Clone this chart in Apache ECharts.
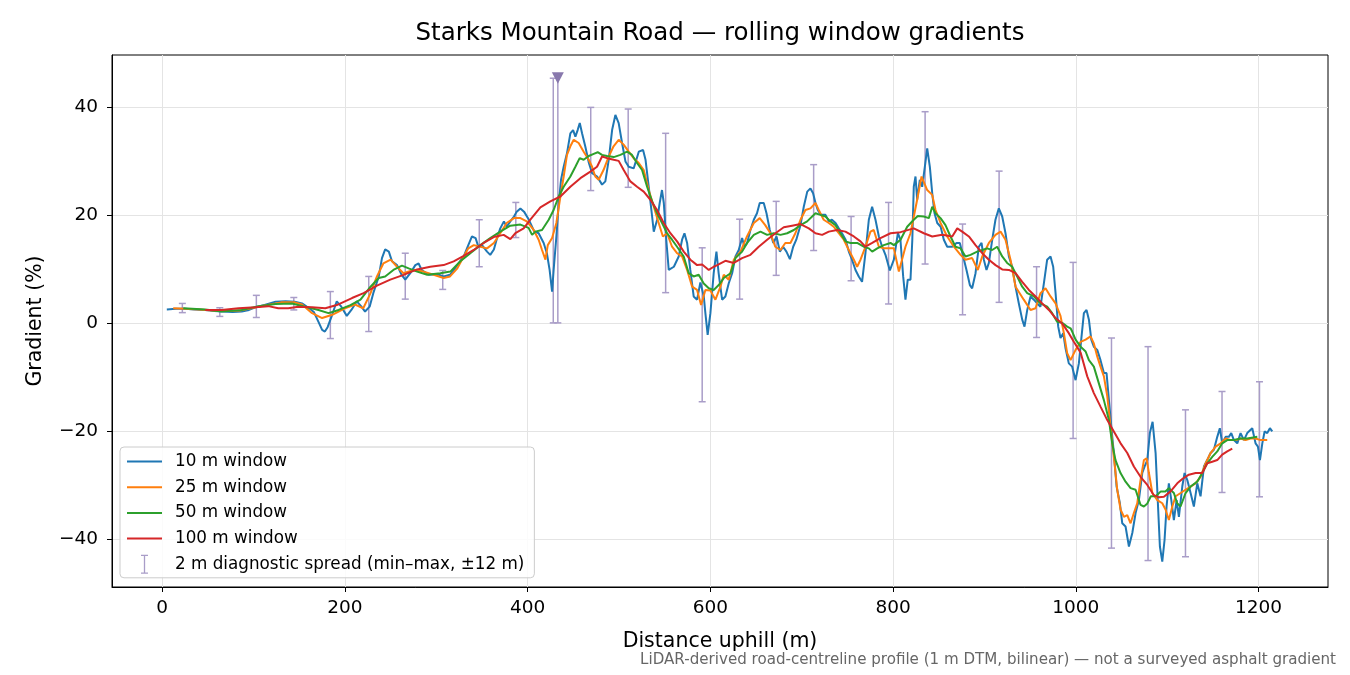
<!DOCTYPE html>
<html>
<head>
<meta charset="utf-8">
<title>Starks Mountain Road gradients</title>
<script src="https://cdn.jsdelivr.net/npm/echarts@6.0.0/dist/echarts.min.js"></script>
<style>
  html, body { margin: 0; padding: 0; background: #fff; }
  #main { width: 1350px; height: 675px; }
</style>
</head>
<body>
<div id="main"></div>
<script>
// rolling window gradients, [distance m, gradient %]
var win10 = [[5,2.5],[15,2.6],[25,2.6],[35,2.5],[47,2.4],[57,2.2],[66,2.1],[77,2.0],[87,2.1],[95,2.4],[102,2.9],[112,3.3],[124,3.9],[135,4.0],[145,3.9],[153,3.6],[160,2.8],[166,2.0],[171,0.2],[175,-1.3],[178,-1.6],[181,-0.8],[186,1.5],[191,4.0],[196,3.0],[202,1.3],[207,2.4],[213,4.0],[218,3.0],[222,2.1],[227,3.0],[231,5.5],[237,8.6],[240.5,12.0],[244,13.6],[248,13.2],[251.5,11.4],[257,10.7],[262,8.9],[266,8.0],[271.5,9.2],[277,10.7],[280.6,11.0],[284,9.8],[292,8.9],[301,9.0],[308,8.6],[315,8.9],[323,10.7],[330,12.3],[335,14.4],[339,16.0],[343,15.7],[346,14.1],[350,14.4],[355.5,13.2],[359,12.6],[363,13.6],[366.5,15.7],[370,17.5],[374,18.8],[377,17.8],[381,18.8],[385,19.7],[388,20.6],[392,21.2],[396,20.6],[401,19.2],[407,17.0],[412,16.6],[417.5,14.8],[421,12.9],[424,9.8],[426.7,5.8],[428.4,9.8],[431.4,16.0],[434,22.2],[436.5,26.5],[439.4,28.9],[443,31.4],[446.7,35.1],[449.7,35.7],[452.2,34.5],[454.7,35.7],[457,37.0],[459.5,35.1],[463,32.7],[467,29.6],[470.5,27.7],[476,27.1],[481.4,25.6],[485,26.2],[488.7,30.2],[492.4,35.7],[496,38.5],[499.6,37.0],[503.3,33.3],[507,29.9],[510.6,28.9],[516,28.6],[521.6,31.7],[526.3,32.0],[529,30.2],[532.5,25.2],[536.2,19.7],[538,16.9],[541.7,19.1],[544.5,22.2],[547,24.6],[549,22.2],[551.4,16.0],[554.4,9.8],[560,10.4],[565.3,12.3],[569,15.4],[571.6,16.6],[574.5,14.8],[578,9.8],[581.7,4.9],[585.4,4.3],[589,7.5],[592.7,5.0],[594.5,1.8],[597,-2.2],[600,1.8],[603.6,9.2],[606.6,13.2],[609,9.2],[612.8,4.3],[616.4,4.9],[620,7.3],[623.8,9.2],[627.4,12.3],[631,13.5],[634.7,15.7],[637.2,14.1],[640.2,14.8],[643.8,17.2],[647.5,19.1],[651,20.3],[654,22.2],[658.4,22.2],[661.4,20.3],[665,17.2],[668.8,14.8],[672.4,16.0],[676,13.2],[679.6,14.1],[683.2,13.2],[687,11.8],[690.6,14.1],[694,15.4],[698.6,18.1],[702.2,21.5],[706,24.3],[709.5,24.9],[712.4,24.0],[715,22.2],[717.5,20.9],[721,20.0],[726,20.0],[729.6,18.8],[733,19.1],[737,18.5],[740.5,17.5],[744,16.6],[748,15.4],[751.5,13.2],[755,11.7],[758.8,9.8],[762.4,8.6],[766,7.6],[769.7,12.9],[773.4,19.1],[777,21.5],[780.7,19.1],[784.4,16.0],[788,14.1],[791.6,12.6],[796.4,9.7],[800.8,11.7],[805.2,16.6],[808,15.4],[811,8.6],[813.5,4.3],[816,8.0],[819,8.0],[821,15.4],[822.6,25.2],[824.5,27.1],[826.3,22.8],[829.2,26.5],[831.8,25.2],[834.7,28.9],[837.3,32.3],[840.2,28.9],[842.8,24.0],[845.3,20.3],[848.3,18.5],[852,17.8],[855.5,15.4],[859.2,14.1],[864.7,14.1],[869.4,14.8],[873,14.8],[876.7,12.3],[880.3,9.8],[884,7.0],[886.5,6.4],[890.2,9.2],[893.8,14.1],[896.8,14.8],[899.3,11.7],[902.2,9.8],[904.8,11.1],[908.5,15.4],[912,19.1],[915.7,21.2],[919.4,19.7],[923,16.6],[926.7,12.3],[930.3,10.4],[934,6.7],[937.6,3.6],[941.3,0.6],[943.8,-0.7],[946.8,2.4],[950.4,4.9],[954,4.3],[957.7,3.6],[961.3,3.0],[965,7.3],[968.6,11.7],[972.3,12.3],[975.2,10.4],[977.8,5.5],[980.7,-0.7],[983.2,-2.8],[986.2,-1.9],[988.7,-4.7],[992.3,-7.5],[996,-8.1],[999.7,-10.6],[1003.3,-7.5],[1005.9,-3.1],[1008.8,1.8],[1011.7,2.4],[1014.3,0.6],[1016.9,-3.1],[1019.7,-4.4],[1023.4,-5.0],[1027,-6.9],[1030.7,-9.3],[1033.6,-9.3],[1036.2,-14.3],[1038.8,-19.2],[1041.6,-24.1],[1044.6,-30.3],[1048.2,-33.4],[1050.8,-37.1],[1054.4,-37.7],[1058.1,-41.4],[1061.8,-38.9],[1065.4,-35.2],[1069,-32.8],[1072.7,-27.8],[1075.2,-26.6],[1078.2,-25.4],[1081,-20.4],[1084,-18.3],[1087.3,-24.1],[1089.8,-33.4],[1092,-41.4],[1094.6,-44.2],[1097.1,-40.2],[1099.3,-34.0],[1101.8,-29.7],[1104.5,-32.8],[1107.3,-36.5],[1110.3,-32.8],[1112.8,-35.9],[1116.5,-30.3],[1119,-27.8],[1122,-29.1],[1125.6,-31.5],[1129.2,-34.0],[1132.9,-29.7],[1136.5,-32.1],[1140.2,-26.6],[1143.8,-25.4],[1147.5,-24.1],[1151.1,-23.5],[1154.8,-21.1],[1157.6,-19.5],[1160.2,-22.3],[1163.9,-21.1],[1167.5,-21.1],[1170.1,-20.4],[1173,-21.7],[1176.7,-22.3],[1180.3,-20.4],[1184,-21.7],[1187.6,-20.4],[1193.1,-19.5],[1196.7,-22.3],[1199.3,-22.9],[1201.5,-25.4],[1204.1,-22.3],[1206.6,-20.1],[1209.5,-20.4],[1212.4,-19.5],[1215,-20.1]];

var win25 = [[12,2.7],[25,2.6],[40,2.5],[55,2.3],[70,2.2],[85,2.3],[100,2.8],[115,3.3],[130,3.8],[145,3.8],[153,3.4],[164,1.8],[175,0.9],[186,1.5],[200,2.7],[211,3.4],[220,2.7],[228,5.5],[235,8.6],[242,11.0],[250,11.7],[257,10.4],[264,9.2],[275,9.8],[286,9.5],[297,8.9],[308,8.3],[315,8.6],[323,10.1],[330,12.3],[335,13.8],[341,14.4],[348,14.1],[355.5,13.8],[363,14.8],[370,16.6],[377,18.5],[385,19.4],[392,19.4],[399,18.8],[406.6,17.2],[412,15.4],[415.7,13.5],[419.4,11.7],[422,14.4],[426.7,15.7],[431.4,18.5],[435.8,23.4],[439.4,27.1],[443,31.1],[446.7,32.7],[450.4,33.9],[455.8,33.3],[461.3,31.7],[466.8,30.2],[470.5,28.9],[474,27.1],[477.7,26.5],[483,28.3],[488.7,30.8],[494,32.7],[499.6,33.9],[505,33.0],[510.6,31.7],[516,30.5],[521.6,29.6],[527,28.3],[532.5,24.6],[538,21.5],[543.4,18.5],[548,16.0],[552.6,16.6],[558,14.1],[563.5,12.9],[569,12.3],[574.5,9.8],[580,6.7],[585.4,6.1],[589.8,3.3],[594.5,6.1],[600,6.0],[605.5,4.3],[611,6.7],[614.6,8.9],[620,8.0],[625.6,11.7],[633,13.2],[640,16.0],[647.5,18.5],[654,19.4],[660,18.1],[665.7,16.6],[671,14.1],[676.7,13.5],[682,14.8],[687.6,14.8],[693,16.6],[698.6,19.1],[704,20.9],[709.5,21.2],[715,22.2],[718.6,20.9],[724,19.1],[729.6,18.5],[735,17.8],[740.5,16.6],[746,15.4],[751.5,13.5],[757,11.7],[760.6,10.4],[764.3,11.7],[769.7,14.1],[775.2,16.9],[778.8,17.2],[784.4,14.1],[789.8,13.8],[795,13.8],[800.8,13.8],[806.3,9.5],[813.5,14.1],[819,16.6],[826.3,22.8],[831.1,27.1],[837.3,24.6],[842.8,23.7],[846.4,20.9],[851.9,18.5],[859.2,16.0],[866.5,14.1],[873.8,12.6],[879.2,11.7],[886.5,12.0],[892.7,9.8],[897.5,12.3],[904.8,14.8],[912,16.3],[917.6,16.9],[923,15.4],[928.5,11.7],[934,6.7],[943,4.3],[950.4,2.4],[955.9,2.7],[961.3,5.5],[966.8,6.4],[972.3,4.9],[977.8,3.6],[983.2,1.3],[986.9,-1.9],[990.5,-5.6],[994.2,-6.9],[999.7,-5.0],[1005.2,-3.5],[1010.7,-3.1],[1016.1,-2.5],[1019.7,-3.8],[1023.4,-6.2],[1027,-8.1],[1030.7,-9.9],[1034.4,-13.6],[1038,-19.2],[1041.6,-24.8],[1045.3,-30.9],[1049,-34.6],[1052.6,-35.9],[1056.3,-35.6],[1059.9,-37.1],[1063.5,-35.2],[1067.2,-33.4],[1070.8,-29.1],[1074.5,-25.4],[1077.4,-25.1],[1080,-27.8],[1083.7,-31.5],[1089.2,-32.8],[1094.6,-33.4],[1098.3,-34.6],[1101.8,-36.5],[1105.6,-34.0],[1109.2,-32.1],[1114.7,-31.5],[1120,-30.9],[1125.6,-30.3],[1131,-29.7],[1136.5,-28.5],[1142,-26.0],[1147.5,-24.1],[1153,-22.9],[1158.5,-22.3],[1164,-21.4],[1169.4,-21.7],[1175,-21.7],[1180.3,-21.4],[1185.8,-21.7],[1191.2,-21.4],[1196.7,-21.4],[1202.2,-21.7],[1209.5,-21.7]];

var win50 = [[23,2.7],[47,2.5],[65,2.1],[87,2.4],[105.5,3.1],[124,3.5],[142,3.6],[156.6,3.0],[171,2.4],[182,1.8],[193,2.4],[206,3.3],[217,4.3],[228,6.7],[237,8.3],[244,8.6],[253,9.8],[262.4,10.6],[269.7,10.1],[279,9.5],[290,8.9],[304.4,9.2],[315.3,9.5],[326.3,11.4],[337.2,12.9],[348.2,14.4],[359,15.7],[370,16.9],[381,18.0],[392,18.2],[401,17.6],[404.8,16.3],[408.4,16.9],[415.7,17.2],[423,19.1],[428.4,20.9],[433.9,23.4],[439.4,25.2],[446.7,27.1],[452.2,28.9],[456.9,30.5],[461.3,30.2],[466.8,30.9],[472.3,31.3],[476.6,31.6],[481.4,31.1],[486.9,30.9],[494.2,30.7],[501.5,31.1],[508.8,31.7],[514.2,31.1],[519.7,29.6],[525.2,28.3],[530.7,25.2],[536.2,22.5],[541.7,20.3],[547.1,18.5],[552.6,16.6],[558,15.4],[563.5,14.1],[570.8,12.3],[576.3,9.2],[581.7,8.6],[587.2,8.9],[592.7,7.3],[598.2,6.4],[603.6,6.1],[609.1,7.0],[614.6,8.3],[622,9.2],[627.4,12.0],[634.7,13.2],[640.2,14.8],[647.5,16.3],[654.8,16.9],[662.1,16.3],[669.4,16.6],[676.7,16.3],[684,16.6],[691.3,17.2],[698.6,18.1],[705.9,18.8],[715,20.3],[720.4,20.0],[725.9,19.7],[731.4,18.8],[736.9,18.1],[742.3,16.6],[747.8,15.1],[753.3,14.8],[760.6,14.8],[767.9,14.1],[773.4,13.8],[777.1,13.2],[782.6,13.8],[789.8,14.4],[797.1,14.8],[800.8,14.4],[808.1,15.4],[815.4,17.8],[822.6,19.1],[827,19.8],[833.6,19.7],[839.1,19.4],[842.8,21.5],[846.4,20.3],[851.9,19.4],[857.3,18.1],[862.8,16.0],[868.3,14.1],[873.8,13.8],[879.2,12.3],[884.7,12.6],[892,13.2],[897.5,13.5],[902.9,13.8],[908.4,13.5],[913.9,14.1],[919.4,12.3],[924.8,11.1],[930.3,10.4],[935.8,8.6],[941.3,6.7],[946.8,5.5],[954,4.9],[961.3,3.6],[968.6,3.0],[974.1,1.8],[979.5,0.2],[985,0.0],[990.5,-0.7],[994.2,-1.0],[996,-1.6],[999.7,-3.1],[1005.2,-4.4],[1010.7,-5.3],[1014.3,-6.9],[1019.7,-8.1],[1025.2,-11.2],[1030.7,-14.3],[1036.2,-18.0],[1039.8,-22.3],[1043.4,-25.4],[1048.9,-27.8],[1054.4,-29.4],[1059.9,-30.6],[1065.4,-30.9],[1070.8,-33.7],[1074.5,-34.0],[1078,-33.5],[1082.1,-32.1],[1087.5,-32.1],[1093,-31.2],[1098,-31.2],[1101.8,-30.6],[1107.3,-31.5],[1110.9,-33.4],[1114.6,-34.0],[1120.1,-31.5],[1125.6,-30.3],[1132.9,-29.4],[1138.3,-27.8],[1143.8,-26.0],[1149.3,-24.8],[1154.8,-23.8],[1160.2,-22.3],[1165.7,-21.7],[1173,-21.7],[1180.3,-21.4],[1187.6,-21.4],[1198.6,-21.1]];

var win100 = [[47,2.4],[65,2.4],[83.5,2.7],[102,2.9],[116,3.1],[127,2.7],[138,2.7],[149,3.0],[164,2.9],[178.5,2.7],[191,3.3],[207.7,4.6],[220.4,5.5],[235,6.9],[249.6,8.0],[264.2,8.9],[278.9,9.9],[293.4,10.4],[308,10.7],[319,11.4],[330,12.4],[340.9,13.5],[351.8,14.8],[362.8,15.9],[373.7,16.3],[381,15.5],[386.5,16.6],[395.6,17.5],[402.9,19.1],[413.9,21.4],[424.8,22.5],[435.8,23.4],[446.7,25.2],[457.7,26.8],[468.6,28.0],[475.9,28.9],[481.4,30.8],[486.9,30.5],[494.2,30.2],[499.6,30.0],[505.1,28.3],[512.4,26.2],[519.7,25.2],[527,24.3],[534.3,22.8],[541.6,20.9],[548.9,18.5],[556.2,16.6],[563.5,15.1],[570.8,13.2],[578.1,11.7],[585.4,10.7],[591,10.8],[598.2,9.8],[603.6,10.4],[607.4,10.7],[616.4,11.5],[625.6,11.1],[634.7,12.0],[643.8,12.6],[652.9,14.1],[662.1,15.4],[671.2,16.6],[680.3,17.7],[689.4,18.0],[698.6,18.3],[707.7,17.5],[715,16.6],[722.3,16.3],[729.6,16.9],[738.7,17.2],[747.8,16.9],[757,16.0],[764.3,15.1],[769.7,14.1],[777.1,14.8],[786.1,15.7],[797.1,16.6],[808.1,16.8],[822.6,17.5],[833.6,16.6],[842.8,16.0],[853.7,16.3],[864.7,16.0],[870.2,17.5],[875.6,16.9],[882.9,16.0],[890.2,14.4],[897.5,12.9],[904.8,11.7],[912.1,10.7],[919.4,9.9],[926.7,9.8],[934,9.2],[941.3,7.6],[948.6,6.1],[955.9,4.9],[963.2,3.6],[970.5,2.4],[977.8,0.9],[985,-0.1],[992.3,-1.9],[997.8,-3.5],[1005.2,-5.5],[1012.5,-9.9],[1019.7,-13.0],[1027,-15.5],[1034.4,-18.0],[1041.6,-20.1],[1049,-22.3],[1056.3,-24.1],[1063.5,-26.6],[1070.8,-28.5],[1078.2,-30.0],[1085.4,-31.9],[1090.9,-32.3],[1096.4,-32.2],[1103.7,-31.2],[1111,-29.7],[1116.5,-28.9],[1123.7,-28.1],[1131.1,-27.8],[1138.4,-27.8],[1143.8,-26.0],[1149.3,-25.7],[1154.8,-25.4],[1160.2,-24.4],[1165.7,-23.8],[1171.2,-23.3]];

// 2 m diagnostic spread: min / max within +-12 m, clipped = max off the chart
var spreadDist = [22, 63, 103, 144, 184, 226, 266, 307, 347, 387, 428, 433, 469, 510, 551, 591, 632, 672, 713, 754, 795, 835, 876, 916, 957, 997, 1039, 1079, 1120, 1160, 1201];
var spreadMin  = [1.9, 1.2, 1.0, 2.4, -2.9, -1.6, 4.4, 6.2, 10.4, 15.8, 0.0, 0.0, 24.5, 25.1, 5.6, -14.6, 4.4, 8.8, 13.4, 7.8, 3.5, 10.9, 1.5, 3.8, -2.7, -21.4, -41.7, -44.0, -43.3, -31.4, -32.2];
var spreadMax  = [3.6, 2.8, 5.1, 4.7, 5.8, 8.6, 12.9, 9.7, 19.1, 22.3, 45.3, 45.4, 39.9, 39.6, 35.1, 13.9, 19.2, 22.5, 29.3, 19.7, 22.3, 39.1, 18.3, 28.1, 10.4, 11.2, -2.8, -4.4, -16.1, -12.7, -10.9];
var spreadClip = [0, 0, 0, 0, 0, 0, 0, 0, 0, 0, 0, 1, 0, 0, 0, 0, 0, 0, 0, 0, 0, 0, 0, 0, 0, 0, 0, 0, 0, 0, 0];

var xTicks = [0, 200, 400, 600, 800, 1000, 1200];
var yTicks = [-40, -20, 0, 20, 40];

var FONT = 'DejaVu Sans';
var SPREAD_COLOR = '#a99dc8';
var CLIP_COLOR = '#8878ad';
var SPREAD_NAME = '2 m diagnostic spread (min\u2013max, \u00b112 m)';
// legend glyphs (box 35 x 19, tiny corner dots keep the size)
var LINE_ICON = 'path://M0,0h0.01v0.01h-0.01Z M35,19h-0.01v-0.01h0.01Z M0,8.5h35v2h-35Z';
var BAR_ICON = 'path://M0,0h0.01v0.01h-0.01Z M35,19h-0.01v-0.01h0.01Z M14,0h7v1.3h-2.85v16.4h2.85v1.3h-7v-1.3h2.85v-16.4h-2.85Z';

var spreadData = spreadDist.map(function (d, i) {
    return [d, spreadMin[i], spreadMax[i], spreadClip[i]];
});

function renderSpread(params, api) {
    var x = api.value(0);
    var lo = api.coord([x, api.value(1)]);
    var hi = api.coord([x, api.value(2)]);
    var clipped = api.value(3) === 1;
    var cap = 3.5;
    var st = { stroke: SPREAD_COLOR, lineWidth: 1.5, fill: null };
    var kids = [
        { type: 'line', shape: { x1: lo[0], y1: lo[1], x2: hi[0], y2: hi[1] }, style: st },
        { type: 'line', shape: { x1: lo[0] - cap, y1: lo[1], x2: lo[0] + cap, y2: lo[1] }, style: st }
    ];
    if (clipped) {
        // max is off scale, mark it with a down triangle
        kids.push({
            type: 'polygon',
            shape: { points: [[hi[0] - 6, hi[1] - 5.5], [hi[0] + 6, hi[1] - 5.5], [hi[0], hi[1] + 6]] },
            style: { fill: CLIP_COLOR }
        });
    } else {
        kids.push({ type: 'line', shape: { x1: hi[0] - cap, y1: hi[1], x2: hi[0] + cap, y2: hi[1] }, style: st });
    }
    return { type: 'group', children: kids };
}

function lineSeries(name, data, color) {
    return {
        name: name,
        type: 'line',
        data: data,
        symbol: 'none',
        z: 3,
        lineStyle: { color: color, width: 2 },
        itemStyle: { color: color },
        emphasis: { disabled: true }
    };
}

function minusFmt(v) {
    return v < 0 ? '\u2212' + Math.abs(v) : String(v);
}

var chart = echarts.init(document.getElementById('main'));
var option = {
    animation: false,
    backgroundColor: '#fff',
    textStyle: { fontFamily: FONT },
    grid: {
        left: 112, right: 22, top: 55, bottom: 88,
        show: true, borderColor: '#000', borderWidth: 1, backgroundColor: 'transparent'
    },
    xAxis: {
        type: 'value',
        min: -55, max: 1276,
        splitNumber: 6,
        name: 'Distance uphill (m)',
        nameLocation: 'middle',
        nameGap: 44,
        nameTextStyle: { fontSize: 20.5, color: '#000', fontFamily: FONT },
        axisLine: { show: true, onZero: false, lineStyle: { color: '#000', width: 1 } },
        axisTick: { show: true, length: 5, customValues: xTicks, lineStyle: { color: '#000' } },
        axisLabel: { customValues: xTicks, margin: 12, fontSize: 18.5, color: '#000', fontFamily: FONT, formatter: minusFmt },
        splitLine: { show: true, lineStyle: { color: '#e4e4e4', width: 1 } }
    },
    yAxis: {
        type: 'value',
        min: -48.9, max: 49.6,
        splitNumber: 5,
        name: 'Gradient (%)',
        nameLocation: 'middle',
        nameGap: 66,
        nameTextStyle: { fontSize: 20.5, color: '#000', fontFamily: FONT },
        axisLine: { show: true, onZero: false, lineStyle: { color: '#000', width: 1 } },
        axisTick: { show: true, length: 5, customValues: yTicks, lineStyle: { color: '#000' } },
        axisLabel: { customValues: yTicks, margin: 14, fontSize: 18.5, color: '#000', fontFamily: FONT, formatter: minusFmt },
        splitLine: { show: true, lineStyle: { color: '#e4e4e4', width: 1 } }
    },
    legend: {
        orient: 'vertical',
        left: 120, top: 447,
        padding: [5, 10, 4, 7],
        itemWidth: 35, itemHeight: 19, itemGap: 6.7,
        backgroundColor: 'rgba(255,255,255,0.85)',
        borderColor: '#cccccc', borderWidth: 1, borderRadius: 4,
        textStyle: { fontSize: 16.8, color: '#000', fontFamily: FONT, padding: [0, 0, 0, 8] },
        data: [
            { name: '10 m window', icon: LINE_ICON },
            { name: '25 m window', icon: LINE_ICON },
            { name: '50 m window', icon: LINE_ICON },
            { name: '100 m window', icon: LINE_ICON },
            { name: SPREAD_NAME, icon: BAR_ICON, itemStyle: { color: SPREAD_COLOR } }
        ]
    },
    series: [
        {
            name: SPREAD_NAME,
            type: 'custom',
            z: 2,
            renderItem: renderSpread,
            itemStyle: { color: SPREAD_COLOR },
            encode: { x: 0, y: [1, 2] },
            data: spreadData
        },
        lineSeries('10 m window', win10, '#1f77b4'),
        lineSeries('25 m window', win25, '#ff7f0e'),
        lineSeries('50 m window', win50, '#2ca02c'),
        lineSeries('100 m window', win100, '#d62728')
    ],
    graphic: [
        {
            type: 'text', x: 720, y: 34,
            style: {
                text: 'Starks Mountain Road \u2014 rolling window gradients',
                fontSize: 24.5, fontFamily: FONT, fill: '#000',
                align: 'center', verticalAlign: 'middle'
            }
        },
        {
            type: 'text', x: 1336, y: 660,
            style: {
                text: 'LiDAR-derived road-centreline profile (1 m DTM, bilinear) \u2014 not a surveyed asphalt gradient',
                fontSize: 15.1, fontFamily: FONT, fill: '#666',
                align: 'right', verticalAlign: 'middle'
            }
        }
    ]
};
chart.setOption(option);
</script>
</body>
</html>
